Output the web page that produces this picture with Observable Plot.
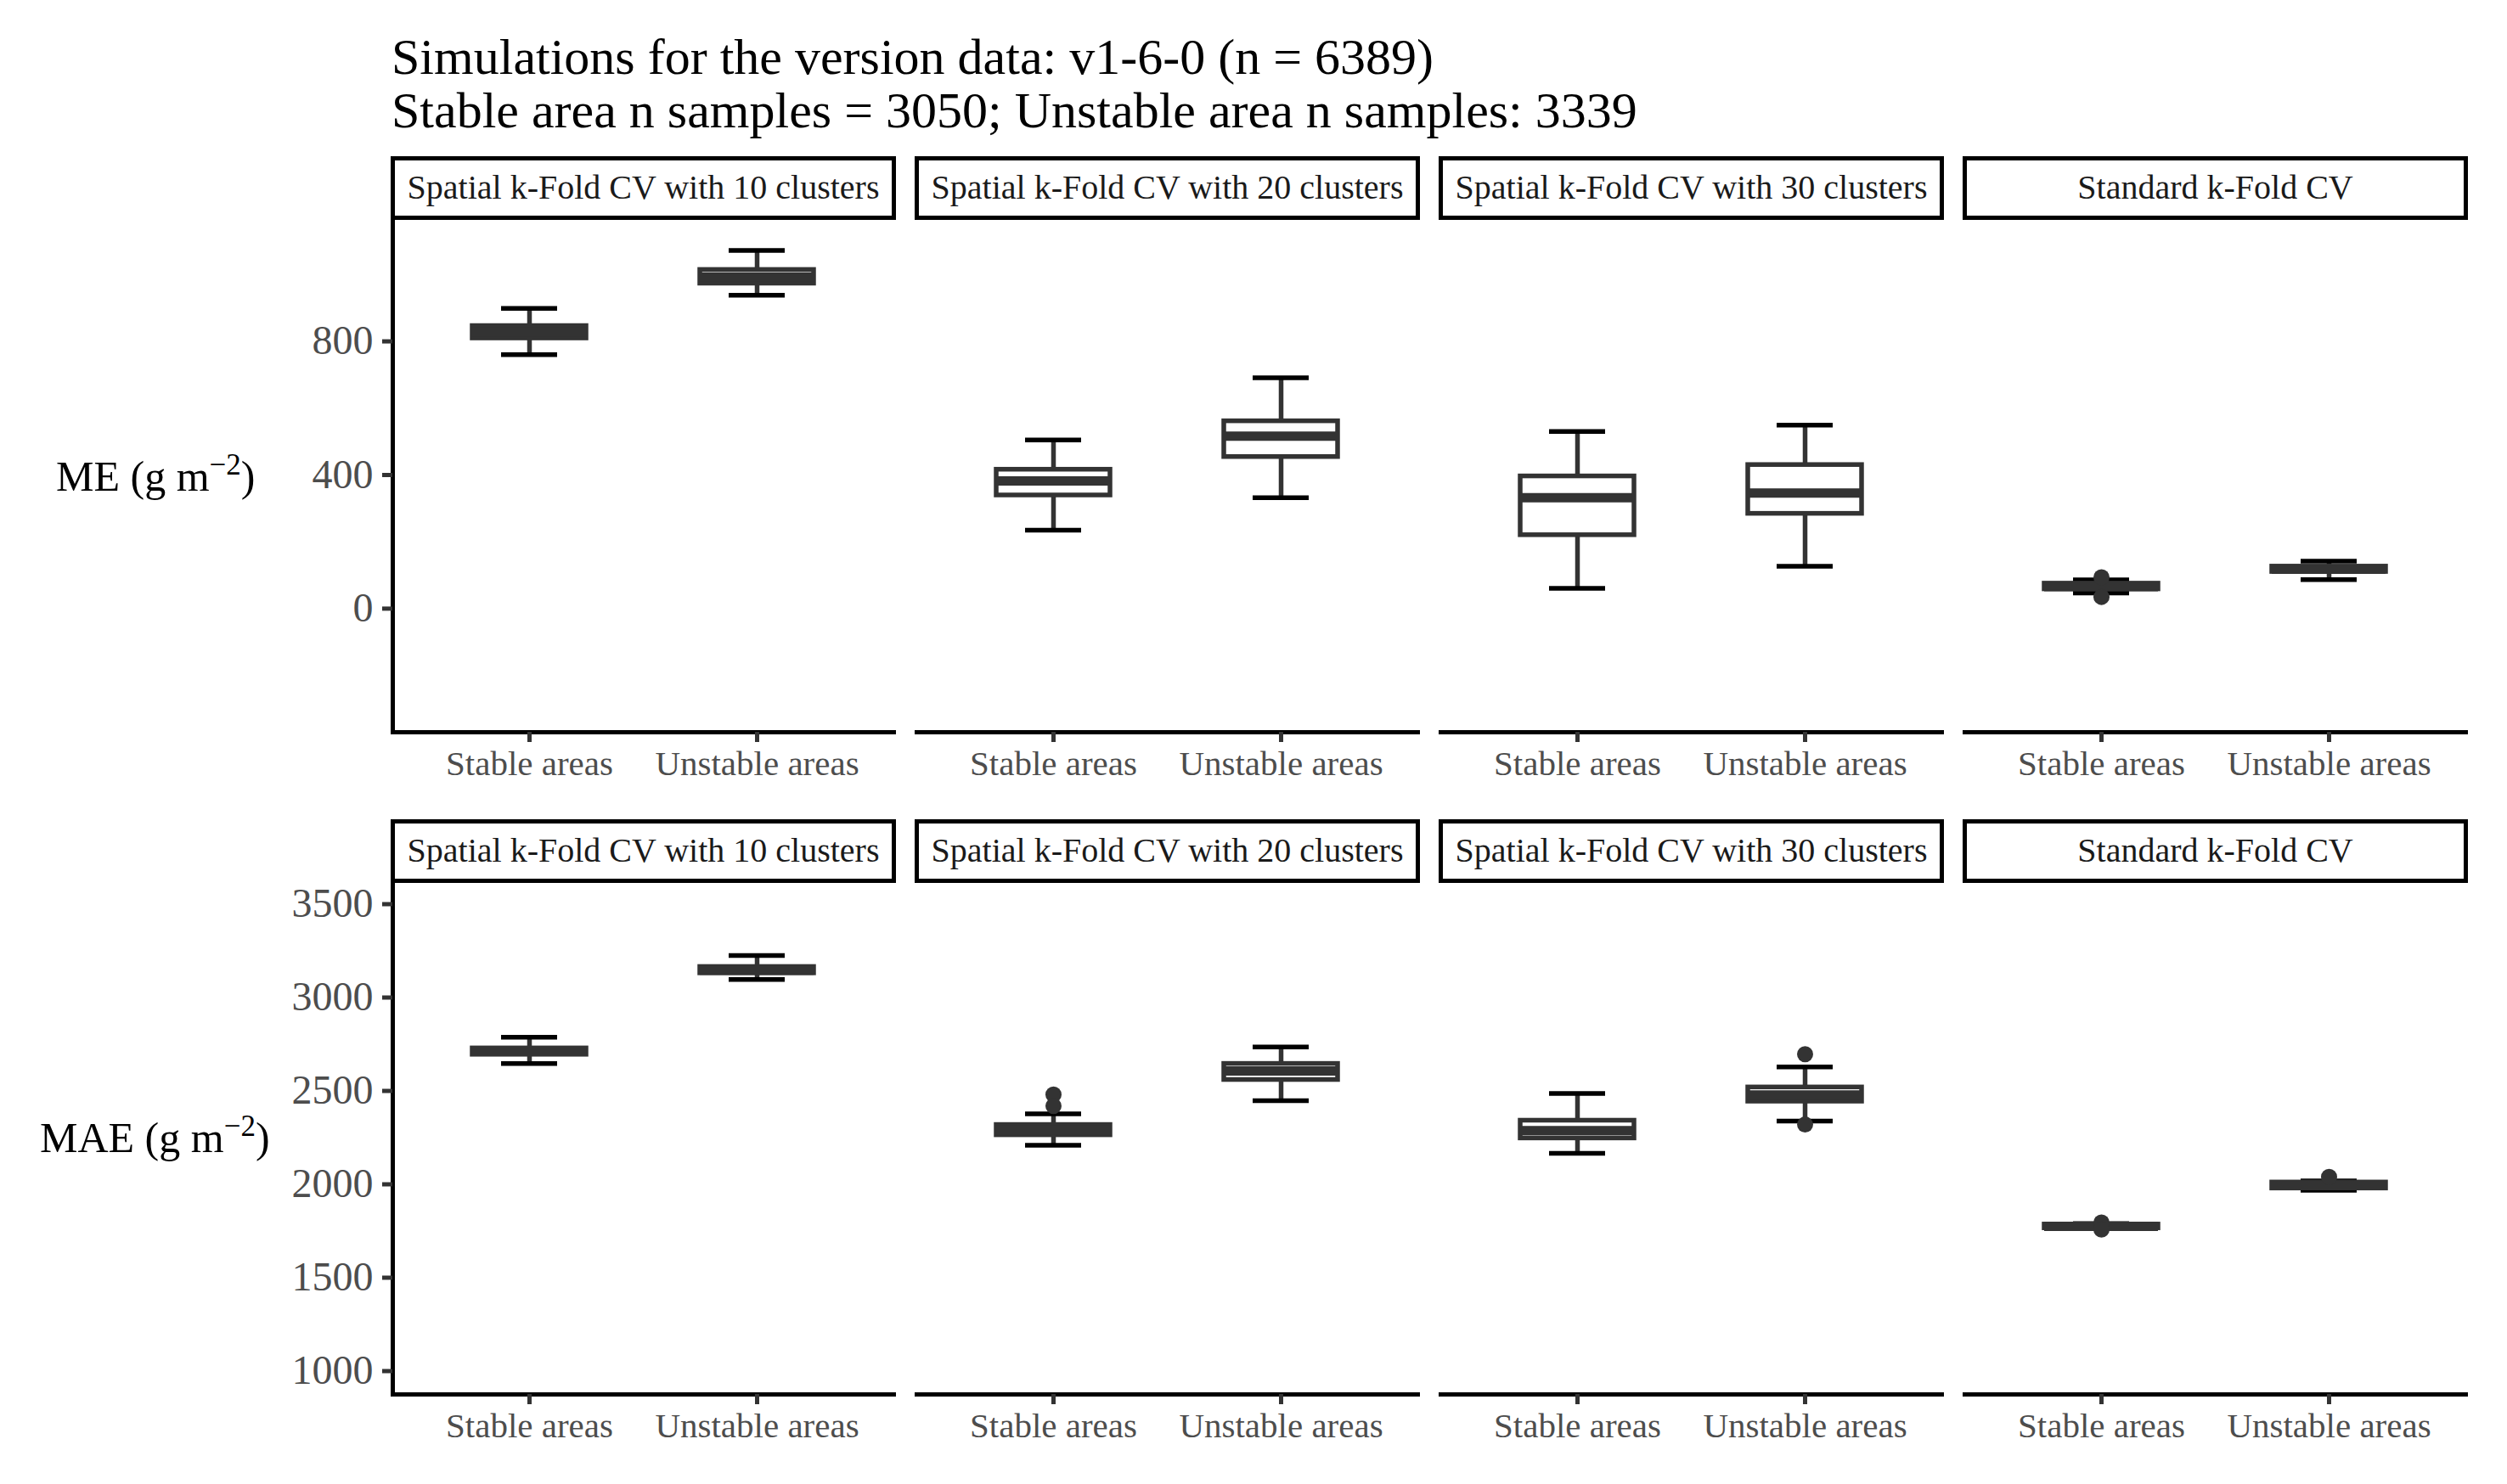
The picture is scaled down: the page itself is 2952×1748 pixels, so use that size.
<!DOCTYPE html>
<html><head><meta charset="utf-8">
<script src="https://cdn.jsdelivr.net/npm/d3@7"></script>
<script src="https://cdn.jsdelivr.net/npm/@observablehq/plot@0.6"></script>
<style>
body{margin:0;background:#fff;}
#root{position:relative;width:2952px;height:1748px;background:#fff;font-family:"Liberation Serif","Times New Roman",serif;overflow:hidden;}
.title{position:absolute;left:461px;top:36px;font-size:60px;line-height:63px;color:#000;white-space:nowrap;z-index:2;}
.ylab{position:absolute;font-size:50px;color:#000;white-space:nowrap;transform:translateY(-50%);line-height:60px;z-index:2;}
.ylab sup{font-size:0.7em;vertical-align:0.55em;line-height:0;}
.plot{position:absolute;left:0;z-index:1;}
</style></head><body>
<div id="root">
  <div id="top" class="plot" style="top:170px;"></div>
  <div id="bottom" class="plot" style="top:930px;"></div>
  <div class="title">Simulations for the version data: v1-6-0 (n = 6389)<br>Stable area n samples = 3050; Unstable area n samples: 3339</div>
  <div class="ylab" style="left:66px;top:561px;">ME (g m<sup>−2</sup>)</div>
  <div class="ylab" style="left:47px;top:1340px;">MAE (g m<sup>−2</sup>)</div>
</div>
<script>
const methods = ["Spatial k-Fold CV with 10 clusters", "Spatial k-Fold CV with 20 clusters", "Spatial k-Fold CV with 30 clusters", "Standard k-Fold CV"];
const areas = ["Stable areas", "Unstable areas"];

// order: [10 stable, 10 unstable, 20 stable, 20 unstable, 30 stable, 30 unstable, Std stable, Std unstable]
const meLow  = [760, 938, 235, 332, 61, 127, 47, 87];
const meQ1   = [809, 973, 339, 454, 220, 284, 58, 110];
const meMed  = [828, 993, 382, 516, 332, 346, 66, 118];
const meQ3   = [846, 1014, 416, 561, 396, 430, 75, 126];
const meHigh = [899, 1072, 505, 691, 530, 549, 86, 142];
const meOutMethod = [3, 3];
const meOutArea   = [0, 0];
const meOutValue  = [94, 35];
const meTicks = [0, 400, 800];
const meDomain = [-370, 1170];

const maeLow  = [2647, 3097, 2209, 2448, 2166, 2339, 1763, 1968];
const maeQ1   = [2694, 3130, 2263, 2559, 2246, 2443, 1765, 1978];
const maeMed  = [2711, 3147, 2290, 2607, 2288, 2478, 1775, 1995];
const maeQ3   = [2728, 3164, 2318, 2645, 2341, 2519, 1785, 2010];
const maeHigh = [2787, 3225, 2377, 2735, 2486, 2628, 1790, 2018];
const maeOutMethod = [1, 1, 2, 2, 3, 3, 3];
const maeOutArea   = [0, 0, 1, 1, 0, 0, 1];
const maeOutValue  = [2481, 2419, 2697, 2320, 1796, 1758, 2040];
const maeTicks = [1000, 1500, 2000, 2500, 3000, 3500];
const maeDomain = [875, 3625];

function buildRows(low, q1, med, q3, high) {
  const rows = [];
  methods.forEach((m, i) => areas.forEach((a, j) => {
    const k = i * 2 + j;
    rows.push({method: m, area: a, low: low[k], q1: q1[k], med: med[k], q3: q3[k], high: high[k]});
  }));
  return rows;
}
function buildOut(mi, ai, v) {
  return v.map((val, k) => ({method: methods[mi[k]], area: areas[ai[k]], value: val}));
}

function panel(rows, outl, yDomain, yTicks, height, mt, mb) {
  const ph = height - mt - mb;
  const lw = 5.5;
  return Plot.plot({
    width: 2952, height, marginLeft: 461, marginRight: 47, marginTop: mt, marginBottom: mb,
    style: {fontFamily: "'Liberation Serif', 'Times New Roman', serif", fontSize: "40px", background: "white", overflow: "visible"},
    fx: {domain: methods, paddingInner: 0.0432, paddingOuter: 0, axis: null, label: null},
    x: {type: "band", domain: areas, paddingInner: 0, paddingOuter: 0.1, axis: null},
    y: {domain: yDomain, axis: null},
    marks: [
      Plot.frame({insetTop: -70, insetBottom: ph, stroke: "black", strokeWidth: 5}),
      Plot.text(methods, {fx: d => d, text: d => d, frameAnchor: "top", lineAnchor: "middle", dy: -35, fontSize: 40, fill: "#1A1A1A"}),
      Plot.frame({anchor: "bottom", stroke: "black", strokeWidth: 5}),
      Plot.frame({anchor: "left", facetAnchor: "left", stroke: "black", strokeWidth: 5}),
      Plot.axisX({tickSize: 12, tickPadding: 9, stroke: "#333333", strokeWidth: 5, fill: "#4D4D4D", fontSize: 41, label: null}),
      Plot.axisY({ticks: yTicks, tickFormat: d3.format("d"), tickSize: 12, tickPadding: 11, stroke: "#333333", strokeWidth: 5, fill: "#4D4D4D", fontSize: 48, label: null}),
      Plot.ruleX(rows, {fx: "method", x: "area", y1: "low", y2: "high", stroke: "#333333", strokeWidth: lw}),
      Plot.tickY(rows, {fx: "method", x: "area", y: "low", stroke: "black", strokeWidth: lw, insetLeft: 101, insetRight: 101}),
      Plot.tickY(rows, {fx: "method", x: "area", y: "high", stroke: "black", strokeWidth: lw, insetLeft: 101, insetRight: 101}),
      Plot.barY(rows, {fx: "method", x: "area", y1: "q1", y2: "q3", fill: "white", stroke: "#333333", strokeWidth: lw, insetLeft: 67, insetRight: 67}),
      Plot.tickY(rows, {fx: "method", x: "area", y: "med", stroke: "#333333", strokeWidth: lw * 2, insetLeft: 67, insetRight: 67}),
      Plot.dot(outl, {fx: "method", x: "area", y: "value", r: 9.5, fill: "#333333"})
    ]
  });
}

document.getElementById("top").append(
  panel(buildRows(meLow, meQ1, meMed, meQ3, meHigh), buildOut(meOutMethod, meOutArea, meOutValue), meDomain, meTicks, 760, 86, 68)
);
document.getElementById("bottom").append(
  panel(buildRows(maeLow, maeQ1, maeMed, maeQ3, maeHigh), buildOut(maeOutMethod, maeOutArea, maeOutValue), maeDomain, maeTicks, 818, 107, 106)
);
</script>
</body></html>
